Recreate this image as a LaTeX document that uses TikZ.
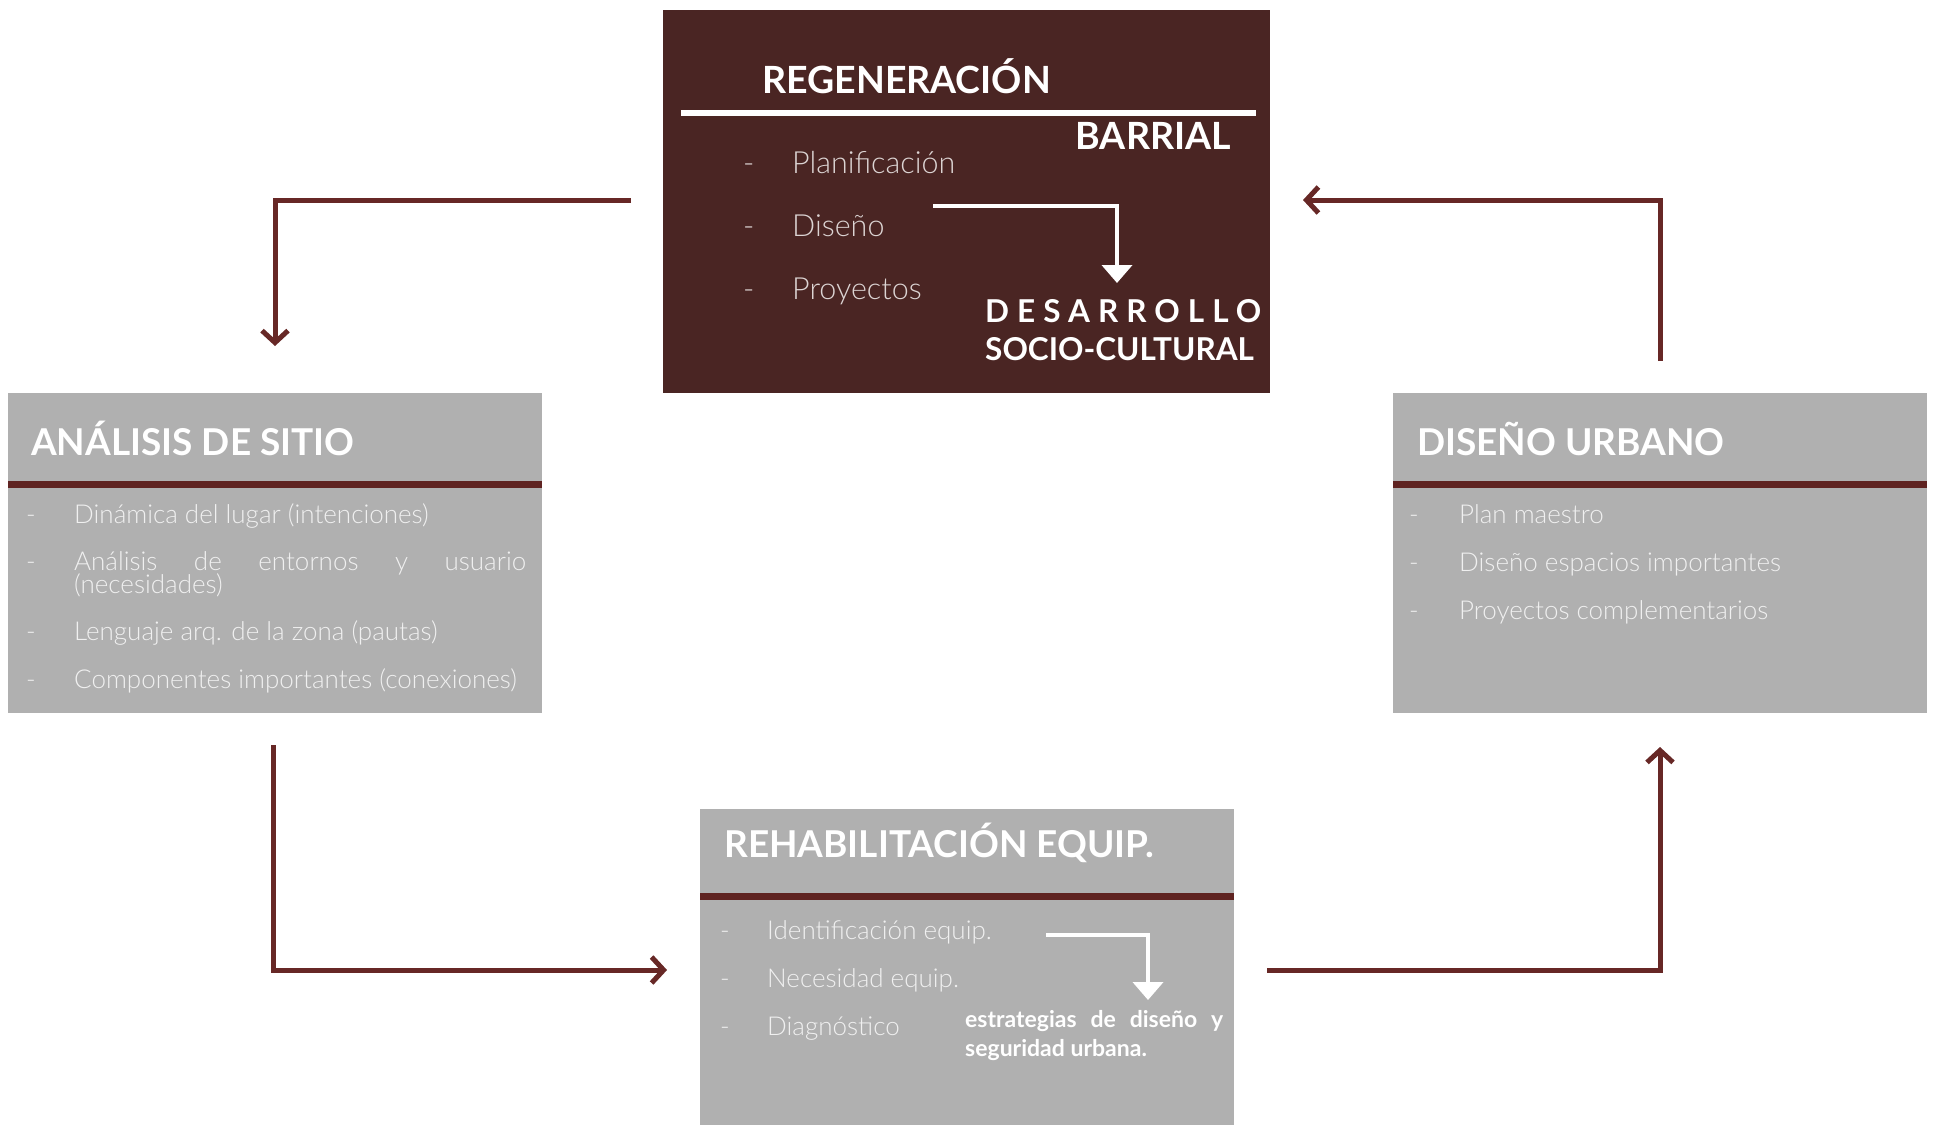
\documentclass[tikz,border=0pt]{standalone}
\usepackage{fontspec}
\setmainfont{Lato}
\IfFontExistsTF{Lato Light}{\newfontfamily\lightf{Lato Light}}{\newfontfamily\lightf{Lato}}
\usetikzlibrary{arrows.meta}
\definecolor{brownbg}{HTML}{4A2523}
\definecolor{greybg}{HTML}{B0B0B0}
\definecolor{rulered}{HTML}{5F2321}
\definecolor{arrowred}{HTML}{672826}
\definecolor{lighttxt}{HTML}{F0F0F0}
\definecolor{lighttxtb}{HTML}{DCD4D3}
\tikzset{
  box/.style={anchor=north west, inner sep=0pt, outer sep=0pt},
  brownbox/.style={box, fill=brownbg},
  greybox/.style={box, fill=greybg},
  title/.style={anchor=base west, inner sep=0pt, text=white, font=\bfseries\fontsize{37}{42}\selectfont},
  item/.style={anchor=base west, inner sep=0pt, text=lighttxt, font=\lightf\fontsize{26}{30}\selectfont},
  itemb/.style={anchor=base west, inner sep=0pt, text=lighttxtb, font=\lightf\fontsize{30.5}{36}\selectfont},
  boldw/.style={anchor=base west, inner sep=0pt, text=white, font=\bfseries\fontsize{23}{29}\selectfont},
  conn/.style={draw=arrowred, line width=5pt, -{Straight Barb[length=12pt,width=26pt]}},
  warrow/.style={draw=white, line width=4pt, -{Triangle[length=18pt,width=30pt]}},
}
\begin{document}
\begin{tikzpicture}[x=1pt,y=-1pt]
\useasboundingbox (0,0) rectangle (1937,1125);
% boxes
\node[brownbox, minimum width=607pt, minimum height=383pt] (reg) at (663,10) {};
\node[greybox, minimum width=534pt, minimum height=320pt] (sitio) at (8,393) {};
\node[greybox, minimum width=534pt, minimum height=320pt] (urb) at (1393,393) {};
\node[greybox, minimum width=534pt, minimum height=316pt] (reh) at (700,809) {};
% rules
\fill[white] (681,110) rectangle (1256,116);
\fill[rulered] (8,481) rectangle (542,488);
\fill[rulered] (1393,481) rectangle (1927,488);
\fill[rulered] (700,893) rectangle (1234,900);
% top box text
\node[title, font=\bfseries\fontsize{37.5}{42}\selectfont] (tregen) at (762,93) {REGENERACIÓN};
\node[title, anchor=base east, font=\bfseries\fontsize{37.5}{42}\selectfont] (tbarr) at (1231,149) {BARRIAL};
\node[itemb] (d1) at (743,173) {-};
\node[itemb] (p1) at (792,173) {Planificación};
\node[itemb] (d2) at (743,236) {-};
\node[itemb] (p2) at (792,236) {Diseño};
\node[itemb] (d3) at (743,299) {-};
\node[itemb] (p3) at (792,299) {Proyectos};
\node[title, font=\bfseries\fontsize{31.5}{36}\selectfont\addfontfeature{LetterSpace=25.5}] (tdes) at (985,322) {DESARROLLO};
\node[title, font=\bfseries\fontsize{31.5}{36}\selectfont] (tsoc) at (985,360) {SOCIO-CULTURAL};
\coordinate (wa1s) at (933,206);
\coordinate (wa1c) at (1117,206);
\coordinate (wa1e) at (1117,283);
\draw[warrow] (wa1s) -- (wa1c) -- (wa1e);
% left box text
\node[title] (tsitio) at (31,455) {ANÁLISIS DE SITIO};
\node[item] (ld1) at (26,523) {-};
\node[item] (l1) at (74,523) {Dinámica del lugar (intenciones)};
\node[item] (ld2) at (26,570) {-};
\node[item] (l2a) at (74,570) {\makebox[452pt][s]{Análisis de entornos y usuario}};
\node[item] (l2b) at (74,593) {(necesidades)};
\node[item] (ld3) at (26,640) {-};
\node[item] (l3) at (74,640) {Lenguaje arq. de la zona (pautas)};
\node[item] (ld4) at (26,688) {-};
\node[item] (l4) at (74,688) {Componentes importantes (conexiones)};
% right box text
\node[title] (turb) at (1417,455) {DISEÑO URBANO};
\node[item] (rd1) at (1409,523) {-};
\node[item] (r1) at (1459,523) {Plan maestro};
\node[item] (rd2) at (1409,571) {-};
\node[item] (r2) at (1459,571) {Diseño espacios importantes};
\node[item] (rd3) at (1409,619) {-};
\node[item] (r3) at (1459,619) {Proyectos complementarios};
% bottom box text
\node[title] (treh) at (724,857) {REHABILITACIÓN EQUIP.};
\node[item] (bd1) at (720,939) {-};
\node[item] (b1) at (767,939) {Identificación equip.};
\node[item] (bd2) at (720,987) {-};
\node[item] (b2) at (767,987) {Necesidad equip.};
\node[item] (bd3) at (720,1035) {-};
\node[item] (b3) at (767,1035) {Diagnóstico};
\node[boldw] (est1) at (965,1027) {\makebox[258pt][s]{estrategias de diseño y}};
\node[boldw] (est2) at (965,1056) {seguridad urbana.};
\coordinate (wa2s) at (1046,935);
\coordinate (wa2c) at (1148,935);
\coordinate (wa2e) at (1148,1000);
\draw[warrow] (wa2s) -- (wa2c) -- (wa2e);
% connectors
\coordinate (c1s) at (631,200);
\coordinate (c1c) at (275,200);
\coordinate (c1e) at (275,346);
\draw[conn] (c1s) -- (c1c) -- (c1e);
\coordinate (c2s) at (273,745);
\coordinate (c2c) at (273,970);
\coordinate (c2e) at (667,970);
\draw[conn] (c2s) -- (c2c) -- (c2e);
\coordinate (c3s) at (1267,970);
\coordinate (c3c) at (1660,970);
\coordinate (c3e) at (1660,747);
\draw[conn] (c3s) -- (c3c) -- (c3e);
\coordinate (c4s) at (1660,361);
\coordinate (c4c) at (1660,200);
\coordinate (c4e) at (1303,200);
\draw[conn] (c4s) -- (c4c) -- (c4e);
\end{tikzpicture}
\end{document}
